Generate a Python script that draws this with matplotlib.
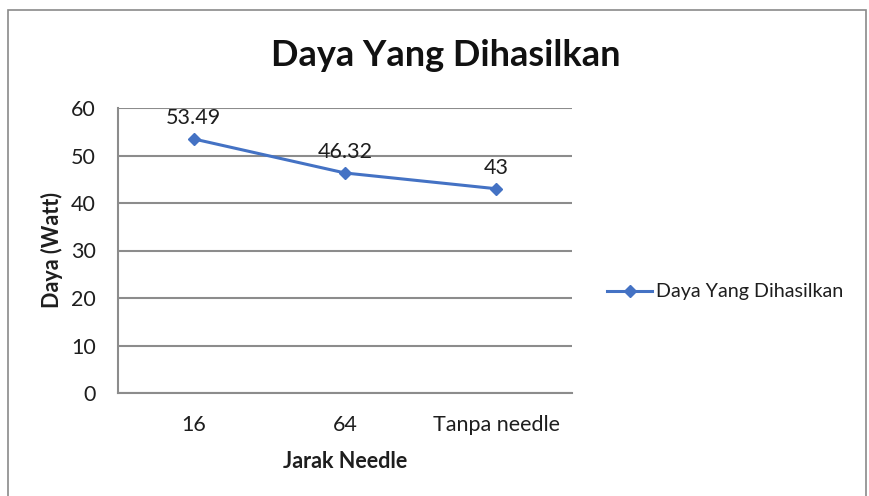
import matplotlib.pyplot as plt
from matplotlib.patches import Rectangle

# data
categories = ['16', '64', 'Tanpa needle']
daya = [53.49, 46.32, 43]
labels = ['53.49', '46.32', '43']
series_name = 'Daya Yang Dihasilkan'

blue = '#4472C4'
grid_c = '#8C8C8C'
txt_c = '#1E1E1E'
plt.rcParams['font.family'] = ['Lato', 'DejaVu Sans']
fs = 15.5

W, H = 869, 496
fig = plt.figure(figsize=(W/100, H/100), dpi=100)
ax = fig.add_axes([118/W, 1-393/H, 454/W, 285/H])

# outer chart border
fig.patches.append(Rectangle((8/W, -0.05), 858/W, 1.05-10/H, transform=fig.transFigure,
                             fill=False, edgecolor='#8A8A8A', lw=1.2))

x = range(len(categories))
ax.plot(x, daya, color=blue, lw=2.2, marker='D', ms=6.5, label=series_name, zorder=3)
for xi, yi, lab in zip(x, daya, labels):
    ax.annotate(lab, (xi, yi), xytext=(0, 8), textcoords='offset points',
                ha='center', va='bottom', fontsize=fs, color=txt_c)

ax.set_xlim(-0.5, 2.5)
ax.set_ylim(0, 60)
ax.set_yticks(range(0, 61, 10))
ax.set_xticks(list(x))
ax.set_xticklabels(categories)
ax.grid(axis='y', color=grid_c, lw=1.5)
ax.set_axisbelow(True)
for s in ['top', 'right']:
    ax.spines[s].set_visible(False)
for s in ['left', 'bottom']:
    ax.spines[s].set_color(grid_c)
    ax.spines[s].set_linewidth(1.5)
ax.tick_params(length=0, labelsize=fs, colors=txt_c)
ax.tick_params(axis='y', pad=16)
ax.tick_params(axis='x', pad=16)

ax.set_xlabel('Jarak Needle', fontsize=fs, fontweight='bold', color=txt_c)
ax.set_ylabel('Daya (Watt)', fontsize=fs, fontweight='bold', color=txt_c)
ax.xaxis.set_label_coords(0.5, (393-451)/285)
ax.yaxis.set_label_coords((63-118)/454, 0.5)
fig.text(446/W, 1-55/H, 'Daya Yang Dihasilkan', ha='center', va='center',
         fontsize=26, fontweight='bold', color='#111111')

ax.legend(loc='center left', bbox_to_anchor=(607/W, 1-292/H), bbox_transform=fig.transFigure,
          frameon=False, fontsize=14.2, handlelength=2.3, handletextpad=0.2,
          borderpad=0, borderaxespad=0, labelcolor=txt_c)

fig.savefig('out.png', dpi=100)
